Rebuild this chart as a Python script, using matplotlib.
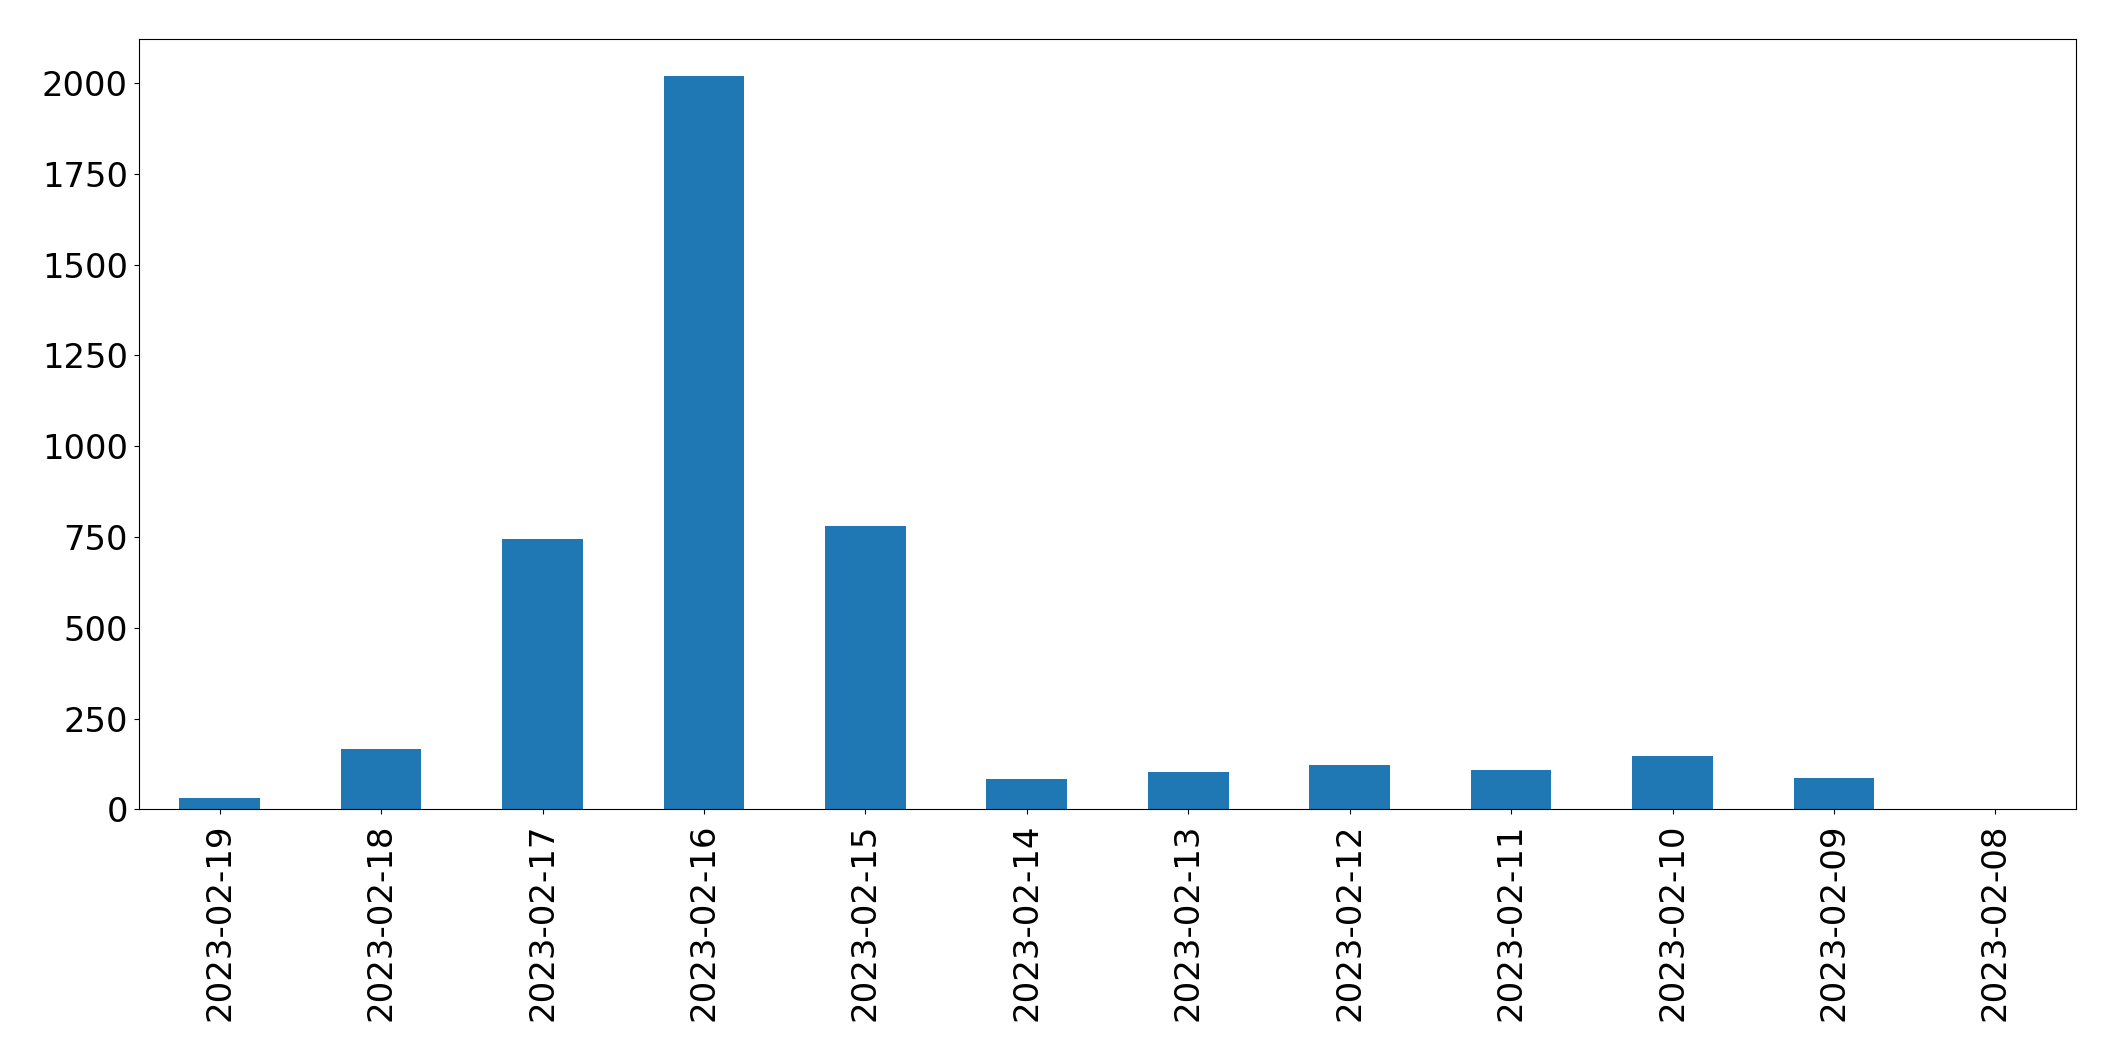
import matplotlib
matplotlib.use("Agg")
import matplotlib.pyplot as plt
import numpy as np

dates = ["2023-02-19", "2023-02-18", "2023-02-17", "2023-02-16", "2023-02-15",
         "2023-02-14", "2023-02-13", "2023-02-12", "2023-02-11", "2023-02-10",
         "2023-02-09", "2023-02-08"]
counts = [30, 165, 744, 2020, 780, 83, 102, 121, 107, 146, 85, 0]

fig = plt.figure(figsize=(21.15, 10.61), dpi=100)
ax = fig.add_axes([0.0657, 0.2372, 0.9159, 0.7258])
x = np.arange(len(dates))
ax.bar(x, counts, width=0.5, color="#1f77b4")
ax.set_xlim(-0.5, len(dates) - 0.5)
ax.set_ylim(0, max(counts) * 1.05)
ax.set_xticks(x)
ax.set_xticklabels(dates, rotation=90)
ax.tick_params(axis="x", labelsize=24.5, pad=7)
ax.tick_params(axis="y", labelsize=24.3, pad=4.5)
fig.savefig("out.png", dpi=100)
